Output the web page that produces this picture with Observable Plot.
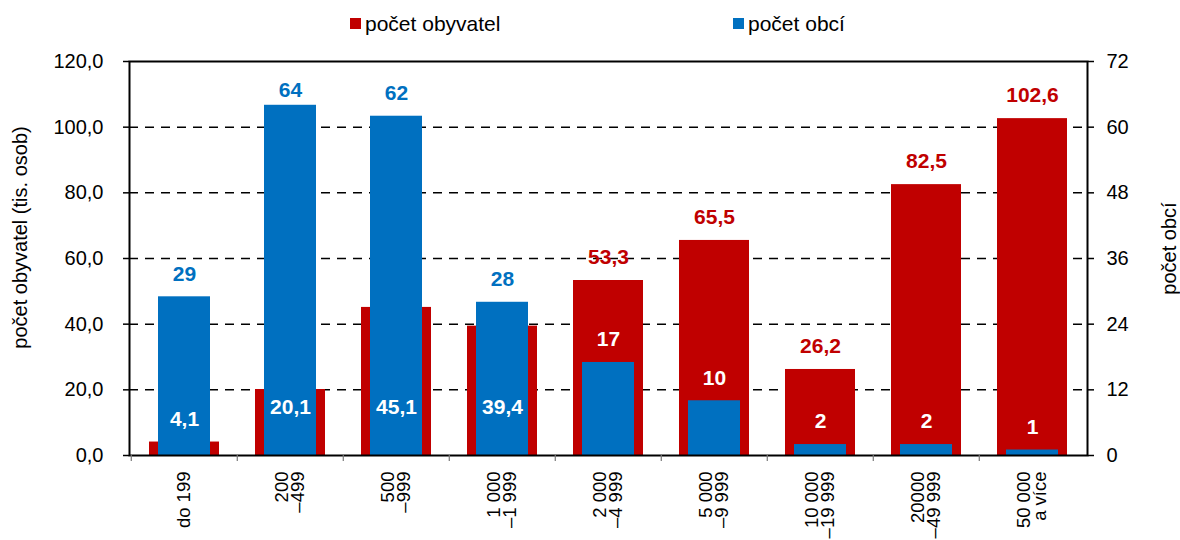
<!DOCTYPE html>
<html>
<head>
<meta charset="utf-8">
<script src="https://cdn.jsdelivr.net/npm/d3@7"></script>
<script src="https://cdn.jsdelivr.net/npm/@observablehq/plot@0.6"></script>
<style>
  body { margin: 0; background: #fff; font-family: "Liberation Sans", Arial, sans-serif; }
  #legend { position: relative; width: 1180px; height: 40px; font-size: 21px; color: #000; }
  #legend .sw { position: absolute; width: 11px; height: 11px; }
  #legend .lb { position: absolute; line-height: 21px; white-space: nowrap; }
</style>
</head>
<body>
<div id="legend">
  <div class="sw" style="left:350px; top:18px; background:#C00000"></div>
  <div class="lb" style="left:365px; top:13px">počet obyvatel</div>
  <div class="sw" style="left:733px; top:18px; background:#0070C0"></div>
  <div class="lb" style="left:748px; top:13px">počet obcí</div>
</div>
<div id="chart"></div>
<script>
const categories = ["do 199", "200\n–499", "500\n–999", "1 000\n–1 999", "2 000\n–4 999", "5 000\n–9 999", "10 000\n–19 999", "20000\n–49 999", "50 000\na více"];
const population = [4.1, 20.1, 45.1, 39.4, 53.3, 65.5, 26.2, 82.5, 102.6];
const municipalities = [29, 64, 62, 28, 17, 10, 2, 2, 1];
const leftTicks = [0, 20, 40, 60, 80, 100, 120];
const rightTicks = [0, 12, 24, 36, 48, 60, 72];
const gridTicks = [20, 40, 60, 80, 100];

const RED = "#C00000", BLUE = "#0070C0";
const k = 120 / 72;
const W = 1180, H = 500, mL = 129, mR = 93, mT = 21, mB = 85;
const step = (W - mL - mR) / categories.length;
const pxPerUnit = (H - mT - mB) / 120;
const labelGap = 23 / pxPerUnit;      // label centre ~23px above bar top
const labelCap = 111.2;               // labels never go higher than this

const data = categories.map((c, i) => ({
  cat: c, pop: population[i], mun: municipalities[i], munS: municipalities[i] * k
}));

const fmt1 = d => d.toFixed(1).replace(".", ",");
const above = v => Math.min(v + labelGap, labelCap);

const redAbove = data.filter(d => d.pop >= d.munS);
const redShort = data.filter(d => d.pop < d.munS && d.pop < 10);
const redInside = data.filter(d => d.pop < d.munS && d.pop >= 10);

const lbl = { fontWeight: "bold", fontSize: 21, lineAnchor: "middle" };

const chart = Plot.plot({
  width: W, height: H,
  marginLeft: mL, marginRight: mR, marginTop: mT, marginBottom: mB,
  style: { fontFamily: '"Liberation Sans", Arial, sans-serif', fontSize: "20px", color: "#000", background: "#fff", overflow: "visible" },
  x: { type: "band", domain: categories, padding: 0, axis: null },
  y: { domain: [0, 120], axis: null },
  marks: [
    Plot.ruleY(gridTicks, { stroke: "#000", strokeWidth: 1.5, strokeDasharray: "9,7" }),
    Plot.barY(data, { x: "cat", y: "pop", fill: RED, insetLeft: 18, insetRight: 18 }),
    Plot.barY(data, { x: "cat", y: "munS", fill: BLUE, insetLeft: 27, insetRight: 27 }),
    Plot.frame({ stroke: "#000", strokeWidth: 2 }),
    Plot.axisY({ anchor: "left", ticks: leftTicks, tickFormat: fmt1, tickSize: 6, tickPadding: 20, label: null, fontSize: 20, strokeWidth: 1.5 }),
    Plot.axisY({ anchor: "right", ticks: rightTicks.map(t => t * k), tickFormat: d => String(Math.round(d / k)), tickSize: 6, tickPadding: 13, label: null, fontSize: 20, strokeWidth: 1.5 }),
    Plot.ruleX(categories, { x: d => d, y1: 0, y2: -1.8, dx: -step / 2, stroke: "#777", strokeWidth: 1.2 }),
    Plot.text(categories, { x: d => d, y: 0, dy: 16, rotate: -90, textAnchor: "end", lineAnchor: "middle", lineHeight: 0.86, fontSize: 18.5, fill: "#000" }),
    // population labels
    Plot.text(redAbove, { x: "cat", y: d => above(d.pop), text: d => fmt1(d.pop), fill: RED, ...lbl }),
    Plot.text(redShort, { x: "cat", y: d => above(d.pop), text: d => fmt1(d.pop), fill: "#fff", ...lbl }),
    Plot.text(redInside, { x: "cat", y: 0, text: d => fmt1(d.pop), dy: -48, fill: "#fff", ...lbl }),
    // municipality labels
    Plot.text(data, { x: "cat", y: d => above(d.munS), text: d => String(d.mun), fill: d => d.munS > d.pop ? BLUE : "#fff", ...lbl }),
    // axis titles
    Plot.text(["počet obyvatel (tis. osob)"], { frameAnchor: "left", dx: -109, dy: -21, rotate: -90, textAnchor: "middle", lineAnchor: "middle", fontSize: 20, fill: "#000" }),
    Plot.text(["počet obcí"], { frameAnchor: "right", dx: 82, dy: -10, rotate: -90, textAnchor: "middle", lineAnchor: "middle", fontSize: 20, fill: "#000" })
  ]
});
document.getElementById("chart").appendChild(chart);
</script>
</body>
</html>
